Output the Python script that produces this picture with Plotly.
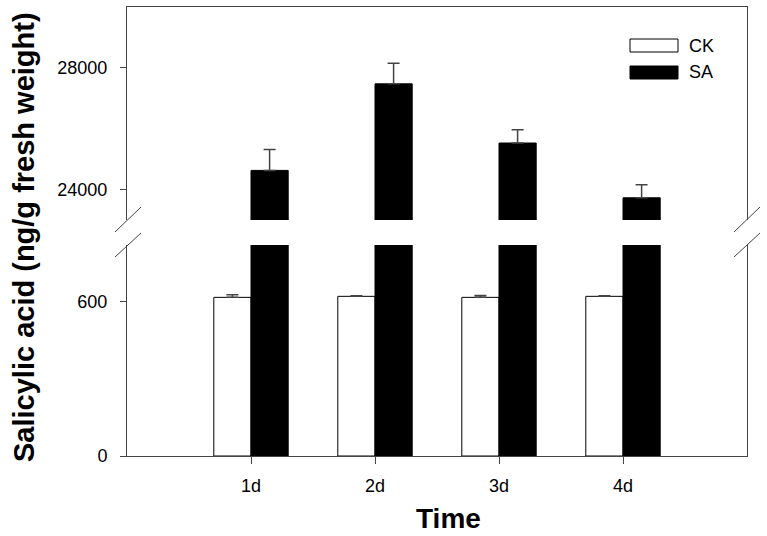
import plotly.graph_objects as go

# data
days = ["1d", "2d", "3d", "4d"]
day_pos = [1, 2, 3, 4]
ck_values = [618, 622, 618, 622]
ck_errors = [10, 2, 7, 2]
sa_values = [24630, 27475, 25530, 23730]
sa_errors = [690, 680, 440, 425]

lower_ticks = [0, 600]
upper_ticks = [24000, 28000]

W, H = 767, 536
L, R, T, B = 127, 20, 7, 80
PW, PH = W - L - R, H - T - B


def px_x(x):
    return (x - L) / PW


def px_y(y):
    return (H - B - y) / PH


FONT = "Arial, Liberation Sans, sans-serif"
AXIS_COLOR = "#444"

fig = go.Figure()

# lower panel
fig.add_trace(go.Bar(x=day_pos, y=ck_values, width=0.3, offset=-0.3,
                     marker=dict(color="white", line=dict(color="black", width=1)),
                     error_y=dict(type="data", array=ck_errors, symmetric=False,
                                  arrayminus=[0] * len(ck_errors), visible=True,
                                  color=AXIS_COLOR, thickness=1.5, width=6),
                     xaxis="x", yaxis="y", name="CK", showlegend=False))
fig.add_trace(go.Bar(x=day_pos, y=sa_values, width=0.3, offset=0,
                     marker=dict(color="black", line=dict(color="black", width=1)),
                     xaxis="x", yaxis="y", name="SA", showlegend=False))

# upper panel
fig.add_trace(go.Bar(x=day_pos, y=sa_values, width=0.3, offset=0,
                     marker=dict(color="black", line=dict(color="black", width=1)),
                     error_y=dict(type="data", array=sa_errors, symmetric=False,
                                  arrayminus=[0] * len(sa_errors), visible=True,
                                  color=AXIS_COLOR, thickness=1.5, width=6),
                     xaxis="x2", yaxis="y2", name="SA", showlegend=False))

tick_font = dict(family=FONT, size=18, color="black")

fig.update_layout(
    width=W, height=H,
    margin=dict(l=L, r=R, t=T, b=B),
    paper_bgcolor="white", plot_bgcolor="white",
    barmode="overlay",
    xaxis=dict(domain=[0, 1], range=[0, 5], anchor="y",
               tickvals=day_pos, ticktext=days, ticks="outside", ticklen=7,
               tickcolor=AXIS_COLOR, showline=True, linecolor=AXIS_COLOR, linewidth=1,
               showgrid=False, zeroline=False, tickfont=tick_font,
               ticklabelstandoff=6),
    xaxis2=dict(domain=[0, 1], range=[0, 5], anchor="y2", side="top",
                showline=True, linecolor=AXIS_COLOR, linewidth=1,
                showticklabels=False, ticks="", showgrid=False, zeroline=False),
    yaxis=dict(domain=[0, px_y(245)], range=[0, 822], anchor="x",
               tickvals=lower_ticks, ticktext=[str(v) for v in lower_ticks],
               ticks="outside", ticklen=6, tickcolor=AXIS_COLOR,
               showline=True, mirror=True, linecolor=AXIS_COLOR, linewidth=1,
               showgrid=False, zeroline=False, tickfont=tick_font,
               ticklabelstandoff=9),
    yaxis2=dict(domain=[px_y(220), 1], range=[23000, 30000], anchor="x2",
                tickvals=upper_ticks, ticktext=[str(v) for v in upper_ticks],
                ticks="outside", ticklen=6, tickcolor=AXIS_COLOR,
                showline=True, mirror=True, linecolor=AXIS_COLOR, linewidth=1,
                showgrid=False, zeroline=False, tickfont=tick_font,
                ticklabelstandoff=9),
    showlegend=False,
)

shapes = []
# axis break marks, left and right
for x0, x1 in [(115, 141), (734, 760)]:
    for y0, y1 in [(232, 207), (257, 233)]:
        shapes.append(dict(type="line", xref="paper", yref="paper",
                           x0=px_x(x0), x1=px_x(x1), y0=px_y(y0), y1=px_y(y1),
                           line=dict(color=AXIS_COLOR, width=1)))

# legend keys
shapes.append(dict(type="rect", xref="paper", yref="paper",
                   x0=px_x(630), x1=px_x(678), y0=px_y(52), y1=px_y(39),
                   fillcolor="white", line=dict(color="black", width=1)))
shapes.append(dict(type="rect", xref="paper", yref="paper",
                   x0=px_x(630), x1=px_x(678), y0=px_y(79), y1=px_y(66),
                   fillcolor="black", line=dict(color="black", width=1)))
fig.update_layout(shapes=shapes)

legend_font = dict(family=FONT, size=18, color="black")
fig.add_annotation(text="CK", xref="paper", yref="paper", x=px_x(687), y=px_y(45.5),
                   xanchor="left", yanchor="middle", showarrow=False, font=legend_font)
fig.add_annotation(text="SA", xref="paper", yref="paper", x=px_x(687), y=px_y(72.5),
                   xanchor="left", yanchor="middle", showarrow=False, font=legend_font)

# axis titles
title_font = dict(family=FONT, size=28, color="black")
fig.add_annotation(text="<b>Time</b>", xref="paper", yref="paper",
                   x=px_x(448), y=px_y(518), xanchor="center", yanchor="middle",
                   showarrow=False, font=title_font)
fig.add_annotation(text="<b>Salicylic acid (ng/g fresh weight)</b>", xref="paper", yref="paper",
                   x=px_x(24), y=px_y(237), xanchor="center", yanchor="middle",
                   textangle=-90, showarrow=False, font=dict(family=FONT, size=29, color="black"))

fig.write_html("out.html", config={"displayModeBar": False},
               post_script="document.body.style.margin='0';")
